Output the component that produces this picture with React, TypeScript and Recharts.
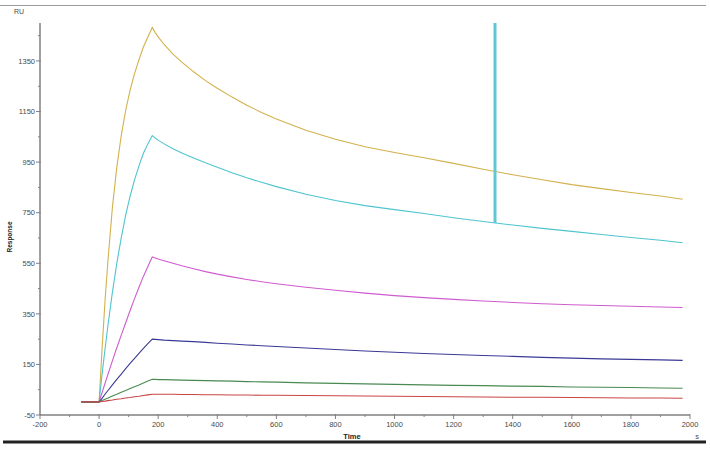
import React from 'react';
import { LineChart, Line, XAxis, YAxis } from 'recharts';

const times = [-60, 0, 10, 20, 30, 45, 60, 75, 90, 105, 120, 135, 150, 165, 180, 190, 200, 220, 250, 280, 320, 360, 400, 450, 500, 550, 600, 700, 800, 900, 1000, 1100, 1200, 1300, 1400, 1500, 1600, 1700, 1800, 1900, 1975];

const yellow = [2, 2, 210, 400, 560, 770, 930, 1055, 1155, 1235, 1300, 1355, 1405, 1445, 1482,
  1462, 1445, 1415, 1377, 1345, 1307, 1272, 1242, 1207, 1175, 1146, 1120,
  1076, 1040, 1011, 988, 967, 945, 922, 900, 880, 861, 845, 830, 816, 803];
const cyan = [2, 2, 110, 210, 305, 435, 550, 650, 740, 815, 880, 935, 985, 1022, 1055,
  1045, 1037, 1022, 1003, 986, 966, 947, 930, 908, 888, 870, 853,
  823, 798, 778, 762, 747, 730, 715, 701, 688, 676, 664, 652, 641, 631];
const magenta = [2, 2, 38, 75, 111, 164, 216, 266, 315, 363, 410, 455, 498, 537, 575,
  571, 567, 560, 550, 540, 528, 517, 507, 496, 486, 477, 469,
  455, 443, 432, 422, 414, 407, 401, 395, 390, 386, 383, 380, 377, 375];
const navy = [2, 2, 16, 32, 47, 69, 91, 112, 133, 154, 174, 194, 213, 232, 250,
  249, 248, 246, 244, 242, 240, 237, 234, 231, 227, 224, 221,
  215, 209, 203, 198, 193, 189, 185, 182, 178, 175, 172, 170, 168, 166];
const green = [2, 2, 7, 12, 17, 25, 32, 40, 47, 55, 62, 69, 77, 84, 91,
  91, 90, 90, 89, 88, 87, 86, 85, 84, 82, 81, 80,
  77, 75, 73, 71, 69, 67, 66, 64, 63, 61, 60, 59, 57, 56];
const red = [2, 2, 3.5, 5, 7, 9, 12, 14, 17, 19, 22, 24, 27, 29.5, 32,
  32, 32, 32, 32, 31, 31, 30, 30, 29, 29, 28, 28,
  27, 26, 25, 24, 23, 22, 21, 20, 20, 19, 18, 17, 17, 16];

const spikeTimes = [1340, 1340];
const spikeValues = [709, 1500];

const xTicks = [-200, -100, 0, 100, 200, 300, 400, 500, 600, 700, 800, 900, 1000, 1100, 1200, 1300, 1400, 1500, 1600, 1700, 1800, 1900, 2000];
const yTicks = [-50, 50, 150, 250, 350, 450, 550, 650, 750, 850, 950, 1050, 1150, 1250, 1350, 1450];

const data = times.map((t, i) => ({
  t,
  yellow: yellow[i],
  cyan: cyan[i],
  magenta: magenta[i],
  navy: navy[i],
  green: green[i],
  red: red[i],
}));
const spikeData = spikeTimes.map((t, i) => ({ t, spike: spikeValues[i] }));

const FONT = '"Liberation Sans", Arial, sans-serif';
const AXIS = '#808080';
const TXT = '#4a4a4a';

const XTick = (props: any) => {
  const { x, y, payload } = props;
  const axisY = y - 6;
  const major = payload.value % 200 === 0;
  return (
    <g>
      <line x1={x} x2={x} y1={axisY - (major ? 1 : 0)} y2={axisY + (major ? 4 : 2)} stroke={AXIS} strokeWidth={1} />
      {major && (
        <text x={x} y={axisY + 11.5} textAnchor="middle" fontSize={7.5} fill={TXT} fontFamily={FONT}>
          {payload.value}
        </text>
      )}
    </g>
  );
};

const YTick = (props: any) => {
  const { x, y, payload } = props;
  const axisX = x + 6;
  const major = (payload.value + 50) % 200 === 0;
  return (
    <g>
      <line x1={axisX - (major ? 4 : 2)} x2={axisX + (major ? 1 : 0)} y1={y} y2={y} stroke={AXIS} strokeWidth={1} />
      {major && (
        <text x={axisX - 5} y={y + 2.7} textAnchor="end" fontSize={7.5} fill={TXT} fontFamily={FONT}>
          {payload.value}
        </text>
      )}
    </g>
  );
};

export default function App() {
  return (
    <div style={{ position: 'absolute', left: 0, top: 0, width: 710, height: 451, background: '#fff' }}>
      <LineChart width={710} height={451} data={data} margin={{ top: 23, right: 20, left: 0, bottom: 0 }}>
        <XAxis
          dataKey="t"
          type="number"
          domain={[-200, 2000]}
          ticks={xTicks}
          interval={0}
          tickSize={4}
          tickMargin={2}
          tickLine={false}
          tick={<XTick />}
          height={36}
          axisLine={{ stroke: AXIS, strokeWidth: 1.5 }}
          allowDataOverflow
        />
        <YAxis
          type="number"
          domain={[-50, 1500]}
          ticks={yTicks}
          interval={0}
          tickSize={4}
          tickMargin={2}
          tickLine={false}
          tick={<YTick />}
          width={40}
          axisLine={{ stroke: AXIS, strokeWidth: 1.5 }}
          allowDataOverflow
        />
        <Line dataKey="yellow" stroke="#d2b14c" strokeWidth={1.1} dot={false} isAnimationActive={false} type="linear" />
        <Line dataKey="cyan" stroke="#4fc4cf" strokeWidth={1.1} dot={false} isAnimationActive={false} type="linear" />
        <Line dataKey="magenta" stroke="#cf5ccf" strokeWidth={1.1} dot={false} isAnimationActive={false} type="linear" />
        <Line dataKey="navy" stroke="#3a3a96" strokeWidth={1.1} dot={false} isAnimationActive={false} type="linear" />
        <Line dataKey="green" stroke="#4a8a52" strokeWidth={1.1} dot={false} isAnimationActive={false} type="linear" />
        <Line dataKey="red" stroke="#c94545" strokeWidth={1.1} dot={false} isAnimationActive={false} type="linear" />
        <Line data={spikeData} dataKey="spike" stroke="#5fc8d2" strokeWidth={3} dot={false} isAnimationActive={false} type="linear" />
      </LineChart>
      <svg width={710} height={451} style={{ position: 'absolute', left: 0, top: 0, pointerEvents: 'none' }}>
        <line x1={0} x2={706} y1={5.5} y2={5.5} stroke="#9a9a9a" strokeWidth={1} />
        <line x1={3} x2={706} y1={442} y2={442} stroke="#222" strokeWidth={3} />
        <text x={14} y={13.5} fontSize={7} fill={TXT} fontFamily={FONT}>RU</text>
        <text x={10} y={237} fontSize={6.5} fontWeight="bold" fill="#222" fontFamily={FONT} textAnchor="middle" transform="rotate(-90 10 237)" dominantBaseline="middle">Response</text>
        <text x={352} y={438.5} fontSize={7.5} fontWeight="bold" fill="#222" fontFamily={FONT} textAnchor="middle">Time</text>
        <text x={697} y={438.5} fontSize={7.5} fill={TXT} fontFamily={FONT} textAnchor="middle">s</text>
      </svg>
    </div>
  );
}
